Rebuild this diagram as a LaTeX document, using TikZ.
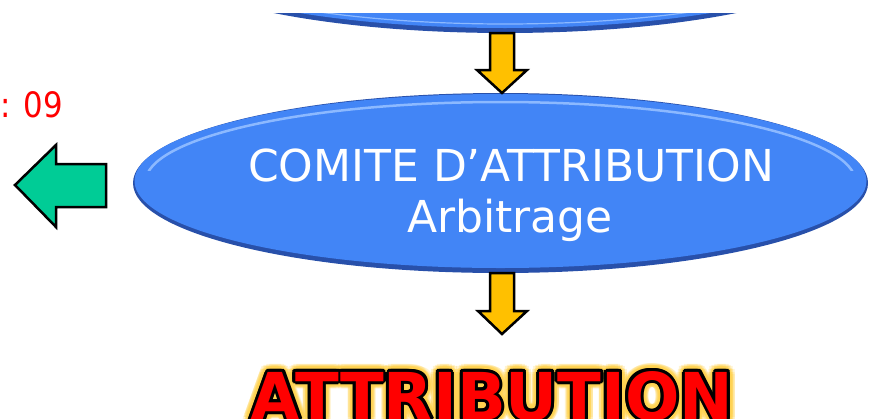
\documentclass[tikz,border=0pt]{standalone}
\usepackage{fontspec}
\setmainfont{DejaVu Sans}
\usetikzlibrary{shapes.geometric,calc}
\definecolor{ellblue}{RGB}{66,133,246}
\definecolor{ellhi}{RGB}{140,185,255}
\definecolor{elldark}{RGB}{40,80,170}
\definecolor{arryellow}{RGB}{255,192,0}
\definecolor{arrgreen}{RGB}{0,204,150}
\definecolor{glowyellow}{RGB}{255,210,80}
\tikzset{
  downarrow/.style={fill=arryellow, draw=black, line width=2.5pt, line join=miter},
  leftarrow/.style={fill=arrgreen, draw=black, line width=2.5pt, line join=miter},
  whitetxt/.style={text=white, font=\fontsize{44}{46}\selectfont, inner sep=0pt},
  bigtxt/.style={font=\fontsize{66}{70}\selectfont\bfseries, inner sep=0pt, anchor=base, xscale=0.97, transform shape},
}
\begin{document}
\begin{tikzpicture}[x=1pt,y=-1pt]
\useasboundingbox (0,0) rectangle (869,418);
\clip (0,0) rectangle (869,418);
% top ellipse (partially visible)
\begin{scope}
\clip (0,13) rectangle (869,60);
\fill[elldark] (505,-57) ellipse [x radius=368, y radius=90];
\fill[ellblue] (505,-59) ellipse [x radius=366, y radius=87];
\draw[ellhi, line width=1.2pt] (505,-59) ellipse [x radius=358, y radius=83];
\fill[ellblue] (505,-60) ellipse [x radius=356, y radius=80];
\end{scope}
\coordinate (top) at (502,32);
% main ellipse
\fill[elldark] (500.5,183) ellipse [x radius=367.5, y radius=90];
\fill[ellblue] (500.5,181) ellipse [x radius=366, y radius=87];
\begin{scope}
\clip (0,0) rectangle (869,170);
\draw[ellhi, line width=2.5pt] (500.5,182) ellipse [x radius=355, y radius=80];
\end{scope}
\node[ellipse, minimum width=735pt, minimum height=178pt, inner sep=0pt] (comite) at (500.5,182) {};
\node[whitetxt, anchor=base] (l1) at (511,181) {COMITE D’ATTRIBUTION};
\node[whitetxt, anchor=base] (l2) at (510,232) {Arbitrage};
% yellow arrow 1
\draw[downarrow] (490,33) -- (514,33) -- (514,70) -- (527,70) -- (502,93) -- (477,70) -- (490,70) -- cycle;
% yellow arrow 2
\draw[downarrow] (490,273) -- (514,273) -- (514,311) -- (527,311) -- (502,334) -- (478,311) -- (490,311) -- cycle;
% green arrow
\draw[leftarrow] (106,164) -- (56,164) -- (56,145) -- (15,185) -- (56,227) -- (56,207) -- (106,207) -- cycle;
% red text
\node[text=red, font=\fontsize{35}{37}\selectfont, inner sep=0pt, anchor=base east, xscale=0.88, transform shape] (delai) at (63,117) {: 09};
% ATTRIBUTION with glow and outline
\foreach \r/\o in {8/0.25,6/0.35,4.5/0.5}{
  \foreach \a in {0,20,...,340}{
    \node[bigtxt, text=glowyellow, opacity=\o] at ($(492,420)+(\a:\r)$) {ATTRIBUTION};
  }
}
\foreach \a in {0,30,...,330}{
  \node[bigtxt, text=black] at ($(492,420)+(\a:3)$) {ATTRIBUTION};
}
\node[bigtxt, text=red] (attr) at (492,420) {ATTRIBUTION};
\end{tikzpicture}
\end{document}
